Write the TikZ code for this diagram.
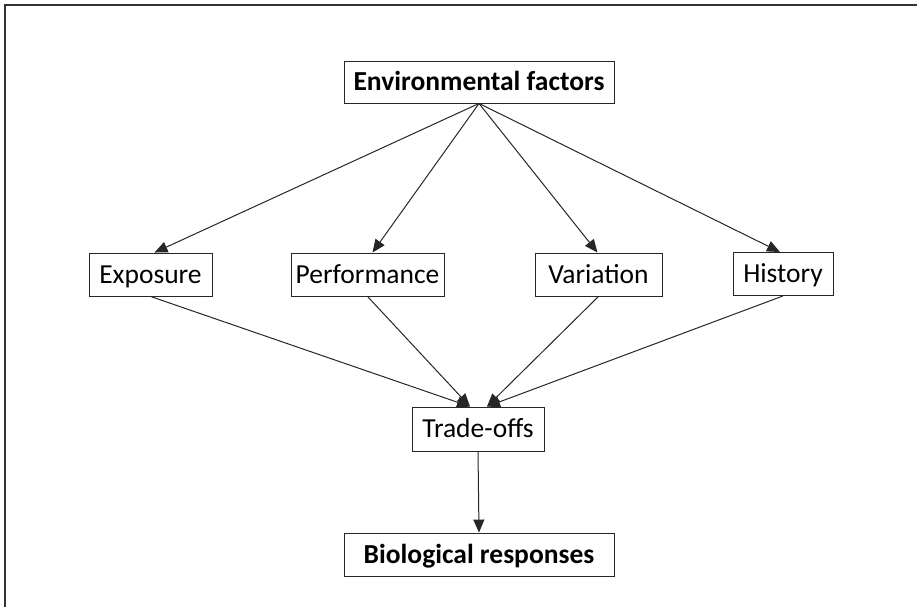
\documentclass[tikz,border=0pt]{standalone}
\usepackage{fontspec}
\setmainfont{Carlito}
\usetikzlibrary{arrows.meta}
\begin{document}
\begin{tikzpicture}[x=1pt,y=-1pt,
  box/.style={draw=black!85,line width=0.9pt,inner sep=0pt,text height=17.6pt,text depth=0pt,font=\fontsize{27.5}{30}\selectfont},
  bbox/.style={box,font=\fontsize{27.5}{30}\selectfont\bfseries},
  link/.style={draw=black!85,line width=1pt,-{Triangle[length=13pt,width=11pt]}}]
\useasboundingbox (0,0) rectangle (917,607);
\draw[black!80,line width=1.6pt] (917,5) -- (4.8,5) -- (4.8,607);
\node[bbox,minimum width=270pt,minimum height=42pt] (env) at (479,82) {Environmental factors};
\node[box,minimum width=123pt,minimum height=43pt] (expo) at (150.5,274.5) {Exposure};
\node[box,minimum width=153pt,minimum height=43pt] (perf) at (367.5,274.5) {Performance};
\node[box,minimum width=127pt,minimum height=43pt] (vari) at (598.5,274.5) {Variation};
\node[box,minimum width=100pt,minimum height=43pt] (hist) at (783,274) {History};
\node[box,minimum width=132pt,minimum height=44pt] (trade) at (478,429) {Trade-offs};
\node[bbox,minimum width=270pt,minimum height=43pt] (bio) at (479,554.5) {Biological responses};
\draw[link] (env.south) -- ([xshift=4pt]expo.north);
\draw[link] (env.south) -- ([xshift=5pt]perf.north);
\draw[link] (env.south) -- ([xshift=-1pt]vari.north);
\draw[link] (env.south) -- ([xshift=-3pt]hist.north);
\draw[link] (expo.south) -- ([xshift=-8pt]trade.north);
\draw[link] (perf.south) -- ([xshift=-8pt]trade.north);
\draw[link] (vari.south) -- ([xshift=9pt]trade.north);
\draw[link] (hist.south) -- ([xshift=9pt]trade.north);
\draw[link] (trade.south) -- (bio.north);
\end{tikzpicture}
\end{document}
